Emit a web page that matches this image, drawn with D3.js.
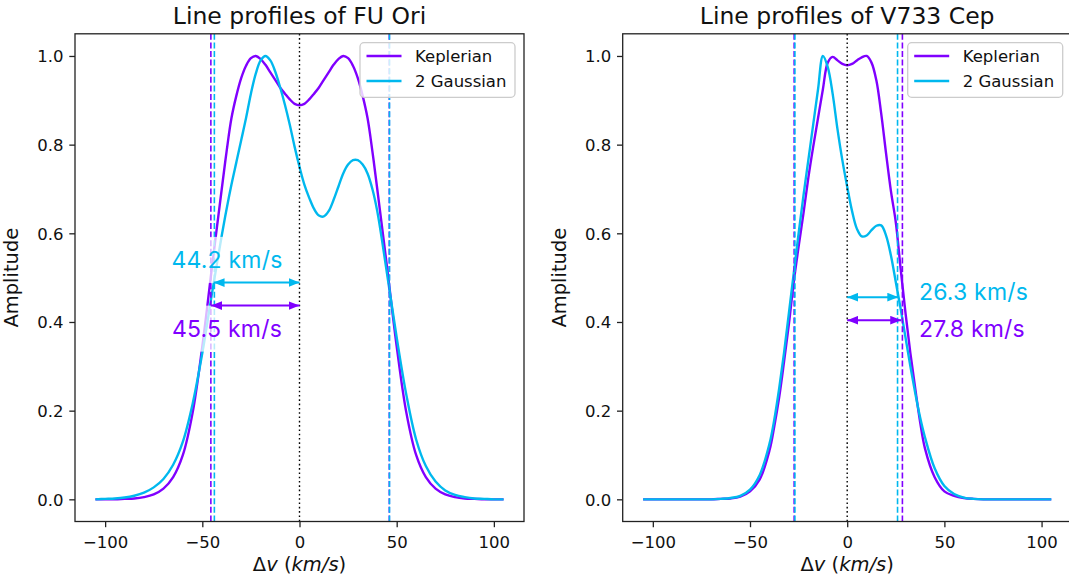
<!DOCTYPE html>
<html>
<head>
<meta charset="utf-8">
<script src="https://cdn.jsdelivr.net/npm/d3@7"></script>
<style>
  body { margin: 0; background: #ffffff; }
  svg { display: block; }
</style>
</head>
<body>
<svg id="fig" width="1069" height="580"></svg>
<script>
// ---- data -----------------------------------------------------------------
// velocity grid (km/s): coarse in the wings, finer across the line core
const velocity = [
  -105, -100, -95, -90, -85, -80, -75, -70, -65, -60, -55, -50, -45,
  -40, -37.5, -35, -32.5, -30, -27.5, -25, -22.5, -20, -17.5, -15, -12.5, -10, -7.5, -5, -2.5,
  0, 2.5, 5, 7.5, 10, 12.5, 15, 17.5, 20, 22.5, 25, 27.5, 30, 32.5, 35, 37.5, 40,
  45, 50, 55, 60, 65, 70, 75, 80, 85, 90, 95, 100, 105
];

// FU Ori: normalised line profiles
const fuOriKeplerian = [
  0, 0, 0, 0.001, 0.002, 0.005, 0.011, 0.024, 0.050, 0.100, 0.195, 0.345, 0.525,
  0.700, 0.785, 0.860, 0.910, 0.950, 0.978, 0.995, 1.000, 0.993, 0.980, 0.963, 0.946, 0.929, 0.915, 0.902, 0.892,
  0.889, 0.892, 0.902, 0.915, 0.929, 0.946, 0.963, 0.980, 0.993, 1.000, 0.995, 0.978, 0.950, 0.910, 0.860, 0.785, 0.700,
  0.525, 0.345, 0.195, 0.100, 0.050, 0.024, 0.011, 0.005, 0.002, 0.001, 0, 0, 0
];
const fuOriTwoGauss = [
  0, 0.001, 0.002, 0.004, 0.008, 0.015, 0.027, 0.046, 0.078, 0.130, 0.215, 0.330, 0.465,
  0.595, 0.655, 0.710, 0.760, 0.810, 0.860, 0.915, 0.960, 0.990, 1.000, 0.990, 0.965, 0.930, 0.890, 0.845, 0.795,
  0.750, 0.710, 0.680, 0.655, 0.640, 0.638, 0.650, 0.675, 0.705, 0.735, 0.755, 0.765, 0.765, 0.755, 0.735, 0.700, 0.650,
  0.510, 0.365, 0.235, 0.135, 0.075, 0.040, 0.020, 0.010, 0.005, 0.002, 0.001, 0, 0
];

// V733 Cep: normalised line profiles
const v733Keplerian = [
  0, 0, 0, 0, 0, 0, 0, 0, 0.001, 0.002, 0.006, 0.018, 0.045,
  0.110, 0.165, 0.230, 0.310, 0.395, 0.490, 0.570, 0.645, 0.725, 0.795, 0.860, 0.925, 0.985, 0.998, 0.990, 0.982,
  0.979, 0.982, 0.990, 0.997, 1.000, 0.985, 0.945, 0.870, 0.780, 0.695, 0.625, 0.520, 0.420, 0.330, 0.250, 0.175, 0.115,
  0.050, 0.018, 0.008, 0.003, 0.001, 0, 0, 0, 0, 0, 0, 0, 0
];
const v733TwoGauss = [
  0, 0, 0, 0, 0, 0, 0, 0, 0.001, 0.003, 0.008, 0.022, 0.055,
  0.125, 0.180, 0.250, 0.330, 0.420, 0.510, 0.600, 0.685, 0.765, 0.845, 0.925, 1.000, 0.975, 0.915, 0.835, 0.765,
  0.705, 0.650, 0.610, 0.593, 0.595, 0.607, 0.617, 0.618, 0.595, 0.550, 0.490, 0.430, 0.365, 0.300, 0.240, 0.185, 0.140,
  0.070, 0.030, 0.012, 0.004, 0.001, 0, 0, 0, 0, 0, 0, 0, 0
];

// half widths at half maximum (km/s) quoted on each panel
const hwhmKeplerian = [45.5, 27.8];
const hwhmTwoGauss = [44.2, 26.3];
// half-maximum crossings marked with dashed lines (km/s)
const halfMaxKeplerian = [[-45.6, 46.2], [-27.3, 28.4]];
const halfMaxTwoGauss = [[-43.8, 46.3], [-26.9, 25.9]];

const panelTitles = ["Line profiles of FU Ori", "Line profiles of V733 Cep"];
const seriesNames = ["Keplerian", "2 Gaussian"];
const xTicks = [-100, -50, 0, 50, 100];
const yTicks = [0.0, 0.2, 0.4, 0.6, 0.8, 1.0];

// ---- styling / layout -----------------------------------------------------
const PURPLE = "#8000ff";
const CYAN = "#00b8ee";
const FONT = "'DejaVu Sans', sans-serif";
const NOTE_FONT = "Inter, 'Noto Sans', sans-serif";

const panels = [
  {
    left: 75, title: panelTitles[0],
    kepl: fuOriKeplerian, gauss: fuOriTwoGauss,
    hwK: hwhmKeplerian[0], hwG: hwhmTwoGauss[0],
    hmK: halfMaxKeplerian[0], hmG: halfMaxTwoGauss[0],
    side: -1,
    noteG: { x: -37.3, y: 0.522, anchor: "middle" },
    noteK: { x: -37.3, y: 0.367, anchor: "middle" },
    arrowG: 0.489, arrowK: 0.437,
    boxed: true
  },
  {
    left: 622.7, title: panelTitles[1],
    kepl: v733Keplerian, gauss: v733TwoGauss,
    hwK: hwhmKeplerian[1], hwG: hwhmTwoGauss[1],
    hmK: halfMaxKeplerian[1], hmG: halfMaxTwoGauss[1],
    side: 1,
    noteG: { x: 36.9, y: 0.4495, anchor: "start" },
    noteK: { x: 36.9, y: 0.367, anchor: "start" },
    arrowG: 0.456, arrowK: 0.404,
    boxed: false
  }
];
const AX_W = 449, AX_TOP = 33.8, AX_BOTTOM = 521.5;

const svg = d3.select("#fig");
svg.append("rect").attr("width", 1069).attr("height", 580).attr("fill", "#fff");

// arrow heads
const defs = svg.append("defs");
[["headPurple", PURPLE], ["headCyan", CYAN]].forEach(([id, c]) => {
  defs.append("marker")
    .attr("id", id)
    .attr("viewBox", "0 0 10 8")
    .attr("refX", 10).attr("refY", 4)
    .attr("markerUnits", "userSpaceOnUse")
    .attr("markerWidth", 11).attr("markerHeight", 9)
    .attr("orient", "auto-start-reverse")
    .append("path").attr("d", "M0,0 L10,4 L0,8 Z").attr("fill", c);
});

panels.forEach((p, i) => {
  const x = d3.scaleLinear().domain([-115.5, 115.5]).range([p.left, p.left + AX_W]);
  const y = d3.scaleLinear().domain([-0.05, 1.05]).range([AX_BOTTOM, AX_TOP]);

  const clipId = "clip" + i;
  defs.append("clipPath").attr("id", clipId)
    .append("rect").attr("x", p.left).attr("y", AX_TOP).attr("width", AX_W).attr("height", AX_BOTTOM - AX_TOP);

  const g = svg.append("g");
  const plot = g.append("g").attr("clip-path", `url(#${clipId})`);

  const line = d3.line()
    .x((d, k) => x(velocity[k]))
    .y(d => y(d))
    .curve(d3.curveCatmullRom.alpha(0.5));

  plot.append("path").datum(p.kepl).attr("d", line)
    .attr("fill", "none").attr("stroke", PURPLE).attr("stroke-width", 2.4).attr("stroke-linejoin", "round");
  plot.append("path").datum(p.gauss).attr("d", line)
    .attr("fill", "none").attr("stroke", CYAN).attr("stroke-width", 2.4).attr("stroke-linejoin", "round");

  // half-maximum markers
  const vline = (v, color, dash, w) => plot.append("line")
    .attr("x1", x(v)).attr("x2", x(v)).attr("y1", AX_TOP).attr("y2", AX_BOTTOM)
    .attr("stroke", color).attr("stroke-width", w).attr("stroke-dasharray", dash);
  p.hmK.forEach(v => vline(v, PURPLE, "6,2.6", 1.6));
  p.hmG.forEach(v => vline(v, CYAN, "6,2.6", 1.6));
  vline(0, "#000", "1.6,2.7", 1.4);

  // annotation labels with their translucent backing boxes
  const notes = [
    { n: p.noteG, text: `${p.hwG} km/s`, color: CYAN },
    { n: p.noteK, text: `${p.hwK} km/s`, color: PURPLE }
  ];
  const noteLayer = g.append("g");
  notes.forEach(o => {
    const t = noteLayer.append("text")
      .attr("x", x(o.n.x)).attr("y", y(o.n.y))
      .attr("text-anchor", o.n.anchor)
      .attr("font-family", NOTE_FONT).attr("font-size", 23)
      .attr("letter-spacing", 0.2)
      .attr("fill", o.color).text(o.text);
    if (p.boxed) {
      const b = t.node().getBBox();
      const pad = 9;
      noteLayer.insert("rect", () => t.node())
        .attr("x", b.x - pad).attr("y", b.y - pad)
        .attr("width", b.width + 2 * pad).attr("height", b.height + 2 * pad)
        .attr("fill", "#fff").attr("fill-opacity", 0.72);
    }
  });

  // width arrows from line centre to the half-maximum velocity
  const arrow = (hw, yy, color, head) => g.append("line")
    .attr("x1", x(0)).attr("x2", x(p.side * hw))
    .attr("y1", y(yy)).attr("y2", y(yy))
    .attr("stroke", color).attr("stroke-width", 2)
    .attr("marker-start", `url(#${head})`).attr("marker-end", `url(#${head})`);
  arrow(p.hwG, p.arrowG, CYAN, "headCyan");
  arrow(p.hwK, p.arrowK, PURPLE, "headPurple");

  // axes
  const xAxis = d3.axisBottom(x).tickValues(xTicks).tickSize(5.7).tickPadding(5.7)
    .tickFormat(d => d < 0 ? "\u2212" + Math.abs(d) : String(d));
  const yAxis = d3.axisLeft(y).tickValues(yTicks).tickSize(5.7).tickPadding(5.7)
    .tickFormat(d3.format(".1f"));
  const gx = g.append("g").attr("transform", `translate(0,${AX_BOTTOM})`).call(xAxis);
  const gy = g.append("g").attr("transform", `translate(${p.left},0)`).call(yAxis);
  [gx, gy].forEach(a => {
    a.select(".domain").remove();
    a.selectAll(".tick line").attr("stroke", "#222").attr("stroke-width", 1.3);
    a.selectAll(".tick text").attr("font-family", FONT).attr("font-size", 16.5).attr("fill", "#111");
  });
  gx.selectAll(".tick text").attr("dy", null).attr("y", 26.5);
  gy.selectAll(".tick text").attr("dy", "0.36em");

  // frame (right edge of the second panel falls outside the canvas)
  g.append("rect")
    .attr("x", p.left).attr("y", AX_TOP).attr("width", AX_W).attr("height", AX_BOTTOM - AX_TOP)
    .attr("fill", "none").attr("stroke", "#222").attr("stroke-width", 1.3);

  // title and axis labels
  const cx = p.left + AX_W / 2;
  g.append("text").attr("x", cx).attr("y", 24).attr("text-anchor", "middle")
    .attr("font-family", FONT).attr("font-size", 23.5).attr("fill", "#111").text(p.title);

  const xl = g.append("text").attr("x", cx).attr("y", 571).attr("text-anchor", "middle")
    .attr("font-family", FONT).attr("font-size", 19.5).attr("fill", "#111");
  xl.append("tspan").text("\u0394");
  xl.append("tspan").attr("font-style", "italic").text("v");
  xl.append("tspan").text(" (");
  xl.append("tspan").attr("font-style", "italic").text("km/s");
  xl.append("tspan").text(")");

  g.append("text")
    .attr("transform", `translate(${p.left - 57},${(AX_TOP + AX_BOTTOM) / 2}) rotate(-90)`)
    .attr("text-anchor", "middle")
    .attr("font-family", FONT).attr("font-size", 19.5).attr("fill", "#111").text("Amplitude");

  // legend
  const lx = p.left + AX_W - 164, ly = 42.7;
  const lg = g.append("g");
  lg.append("rect").attr("x", lx).attr("y", ly).attr("width", 155).attr("height", 54.6)
    .attr("rx", 4).attr("fill", "#fff").attr("fill-opacity", 0.8)
    .attr("stroke", "#cccccc").attr("stroke-width", 1.3);
  [[seriesNames[0], PURPLE], [seriesNames[1], CYAN]].forEach(([name, c], k) => {
    const yy = 56 + k * 25;
    lg.append("line").attr("x1", lx + 6.5).attr("x2", lx + 41.5).attr("y1", yy).attr("y2", yy)
      .attr("stroke", c).attr("stroke-width", 2.4);
    lg.append("text").attr("x", lx + 55).attr("y", yy).attr("dy", "0.36em")
      .attr("font-family", FONT).attr("font-size", 16.5).attr("fill", "#111").text(name);
  });
});
</script>
</body>
</html>
